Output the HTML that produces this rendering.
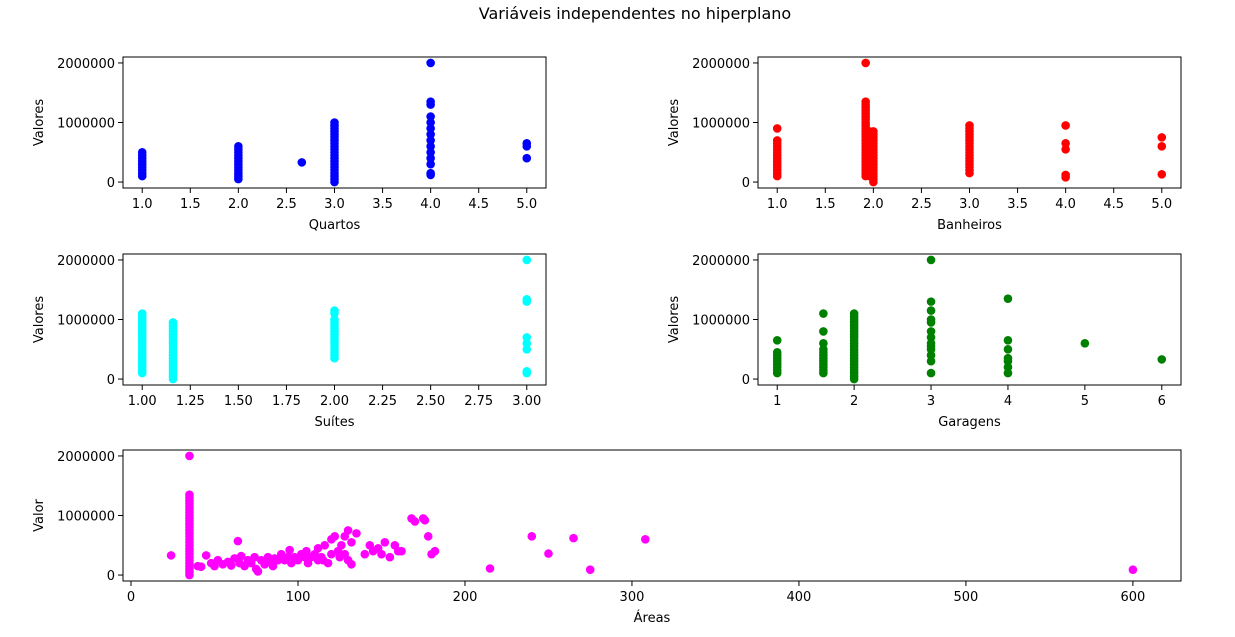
<!DOCTYPE html>
<html><head><meta charset="utf-8"><style>
html,body{margin:0;padding:0;background:#fff;}
svg{display:block;font-family:"DejaVu Sans","Liberation Sans",sans-serif;}
</style></head><body>
<svg id="fig" width="1235" height="637" viewBox="0 0 1235 637" xmlns="http://www.w3.org/2000/svg">
<rect width="1235" height="637" fill="#fff"/>
<text x="635" y="19" text-anchor="middle" font-size="16">Variáveis independentes no hiperplano</text>
</svg>
<script>
const yTicks = [0, 1000000, 2000000];
const yTickLabels = ["0", "1000000", "2000000"];

const quartosX = [1,1,1,1,1,1,1,1,1, 2,2,2,2,2,2,2,2,2,2,2,2, 2.66, 3,3,3,3,3,3,3,3,3,3,3,3,3,3,3,3,3,3,3,3,3, 4,4,4,4,4,4,4,4,4,4,4,4,4,4, 5,5,5];
const quartosY = [100,150,200,250,300,350,400,450,500, 50,100,150,200,250,300,350,400,450,500,550,600, 330, 0,50,100,150,200,250,300,350,400,450,500,550,600,650,700,750,800,850,900,950,1000, 120,150,300,400,500,600,700,800,900,1000,1100,1300,1350,2000, 400,600,650];

const banheirosX = [1,1,1,1,1,1,1,1,1,1,1,1,1,1, 1.92,1.92,1.92,1.92,1.92,1.92,1.92,1.92,1.92,1.92,1.92,1.92,1.92,1.92,1.92,1.92,1.92,1.92,1.92,1.92,1.92,1.92,1.92,1.92,1.92,1.92,1.92, 1.96,1.96,1.96,1.96,1.96,1.96,1.96,1.96,1.96,1.96,1.96,1.96,1.96,1.96,1.96,1.96, 2,2,2,2,2,2,2,2,2,2,2,2,2,2,2,2,2,2, 3,3,3,3,3,3,3,3,3,3,3,3,3,3,3,3,3, 4,4,4,4,4, 5,5,5];
const banheirosY = [100,150,200,250,300,350,400,450,500,550,600,650,700,900, 100,150,200,250,300,350,400,450,500,550,600,650,700,750,800,850,900,950,1000,1050,1100,1150,1200,1250,1300,1350,2000, 100,150,200,250,300,350,400,450,500,550,600,650,700,750,800,850, 0,50,100,150,200,250,300,350,400,450,500,550,600,650,700,750,800,850, 150,200,250,300,350,400,450,500,550,600,650,700,750,800,850,900,950, 80,120,550,650,950, 130,600,750];

const suitesX = [1,1,1,1,1,1,1,1,1,1,1,1,1,1,1,1,1,1,1,1,1,1, 1.16,1.16,1.16,1.16,1.16,1.16,1.16,1.16,1.16,1.16,1.16,1.16,1.16,1.16,1.16,1.16,1.16,1.16,1.16,1.16, 2,2,2,2,2,2,2,2,2,2,2,2,2,2,2,2, 3,3,3,3,3,3,3,3];
const suitesY = [100,150,200,250,300,350,400,450,500,550,600,650,700,750,800,850,900,950,1000,1050,1100,1000, 0,50,100,150,200,250,300,350,400,450,500,550,600,650,700,750,800,850,900,950, 350,400,450,500,550,600,650,700,750,800,850,900,950,1000,1100,1150, 100,130,500,600,700,1300,1340,2000];

const garagensX = [1,1,1,1,1,1,1,1,1, 1.6,1.6,1.6,1.6,1.6,1.6,1.6,1.6,1.6,1.6,1.6,1.6, 2,2,2,2,2,2,2,2,2,2,2,2,2,2,2,2,2,2,2,2,2,2,2, 3,3,3,3,3,3,3,3,3,3,3,3,3, 4,4,4,4,4,4,4, 5, 6];
const garagensY = [100,150,200,250,300,350,400,450,650, 100,150,200,250,300,350,400,450,500,600,800,1100, 0,50,100,150,200,250,300,350,400,450,500,550,600,650,700,750,800,850,900,950,1000,1050,1100, 100,300,400,500,550,600,700,800,950,1000,1150,1300,2000, 100,200,300,350,500,650,1350, 600, 330];

const areasX = [35,35,35,35,35,35,35,35,35,35,35,35,35,35,35,35,35,35,35,35,35,35,35,35,35,35,35,35,35, 24,40,42,45,48,50,52,55,58,60,62,64,65,66,68,70,72,74,75,76,78,80,82,84,85,86,88,90,92,94,95,96,98,100,102,104,105,106,108,110,112,112,114,115,116,118,120,120,122,124,125,126,128,128,130,130,132,132,135,140,143,145,148,150,152,155,158,160,162,168,170,175,176,178,180,182, 215,240,250,265,275,308,600];
const areasY = [0,50,100,150,200,250,300,350,400,450,500,550,600,650,700,750,800,850,900,950,1000,1050,1100,1150,1200,1250,1300,1350,2000, 330,150,140,330,200,150,250,180,220,160,280,570,200,320,150,250,200,300,100,60,250,180,300,200,150,280,250,350,250,300,420,200,300,250,350,300,400,200,300,350,250,450,300,250,500,200,350,600,650,400,300,500,650,350,750,250,180,550,700,350,500,400,450,350,550,300,500,400,400,950,900,950,920,650,350,400, 110,650,360,620,90,600,90];

const svg = document.getElementById('fig');
const NS = 'http://www.w3.org/2000/svg';
function mk(tag, attrs, parent){const e=document.createElementNS(NS,tag);for(const k in attrs)e.setAttribute(k,attrs[k]);(parent||svg).appendChild(e);return e;}

function panel(cfg){
  const {x0,y0,w,h,xs,ys,color,xticks,xlabels,xtitle,ytitle,name} = cfg;
  const g = mk('g',{});
  
  
  let xmin=Math.min(...xs), xmax=Math.max(...xs);
  const xm=(xmax-xmin)*0.05; xmin-=xm; xmax+=xm;
  let ymin=-100000, ymax=2100000;
  const sx=v=>x0+(v-xmin)/(xmax-xmin)*w;
  const sy=v=>y0+h-(v-ymin)/(ymax-ymin)*h;
  for(let i=0;i<xs.length;i++){
    const c=mk('circle',{cx:sx(xs[i]),cy:sy(ys[i]*1000),r:4.3,fill:color},g);
    
    
  }
  const fr=mk('rect',{x:x0,y:y0,width:w,height:h,fill:'none',stroke:'#000','stroke-width':1},g);
  
  
  xticks.forEach((t,i)=>{
    const px=sx(t);
    mk('line',{x1:px,x2:px,y1:y0+h,y2:y0+h+5,stroke:'#000'},g);
    const tx=mk('text',{x:px,y:y0+h+20,'text-anchor':'middle','font-size':13},g);
    tx.textContent=xlabels[i];
    
    
  });
  yTicks.forEach((t,i)=>{
    const py=sy(t);
    mk('line',{x1:x0-5,x2:x0,y1:py,y2:py,stroke:'#000'},g);
    const tx=mk('text',{x:x0-8,y:py+5,'text-anchor':'end','font-size':13},g);
    tx.textContent=yTickLabels[i];
    
    
  });
  const xt=mk('text',{x:x0+w/2,y:y0+h+41,'text-anchor':'middle','font-size':13},g);
  xt.textContent=xtitle;
  
  
  const yt=mk('text',{x:0,y:0,'text-anchor':'middle','font-size':13,transform:`translate(${x0-80},${y0+h/2}) rotate(-90)`},g);
  yt.textContent=ytitle;
  
  
}

panel({name:'quartos',x0:123,y0:57,w:423,h:131,xs:quartosX,ys:quartosY,color:'#0000ff',
  xticks:[1,1.5,2,2.5,3,3.5,4,4.5,5],xlabels:['1.0','1.5','2.0','2.5','3.0','3.5','4.0','4.5','5.0'],xtitle:'Quartos',ytitle:'Valores'});
panel({name:'banheiros',x0:758,y0:57,w:423,h:131,xs:banheirosX,ys:banheirosY,color:'#ff0000',
  xticks:[1,1.5,2,2.5,3,3.5,4,4.5,5],xlabels:['1.0','1.5','2.0','2.5','3.0','3.5','4.0','4.5','5.0'],xtitle:'Banheiros',ytitle:'Valores'});
panel({name:'suites',x0:123,y0:254,w:423,h:131,xs:suitesX,ys:suitesY,color:'#00ffff',
  xticks:[1,1.25,1.5,1.75,2,2.25,2.5,2.75,3],xlabels:['1.00','1.25','1.50','1.75','2.00','2.25','2.50','2.75','3.00'],xtitle:'Suítes',ytitle:'Valores'});
panel({name:'garagens',x0:758,y0:254,w:423,h:131,xs:garagensX,ys:garagensY,color:'#008000',
  xticks:[1,2,3,4,5,6],xlabels:['1','2','3','4','5','6'],xtitle:'Garagens',ytitle:'Valores'});
panel({name:'areas',x0:123,y0:450,w:1058,h:131,xs:areasX,ys:areasY,color:'#ff00ff',
  xticks:[0,100,200,300,400,500,600],xlabels:['0','100','200','300','400','500','600'],xtitle:'Áreas',ytitle:'Valor'});
</script>
</body></html>
